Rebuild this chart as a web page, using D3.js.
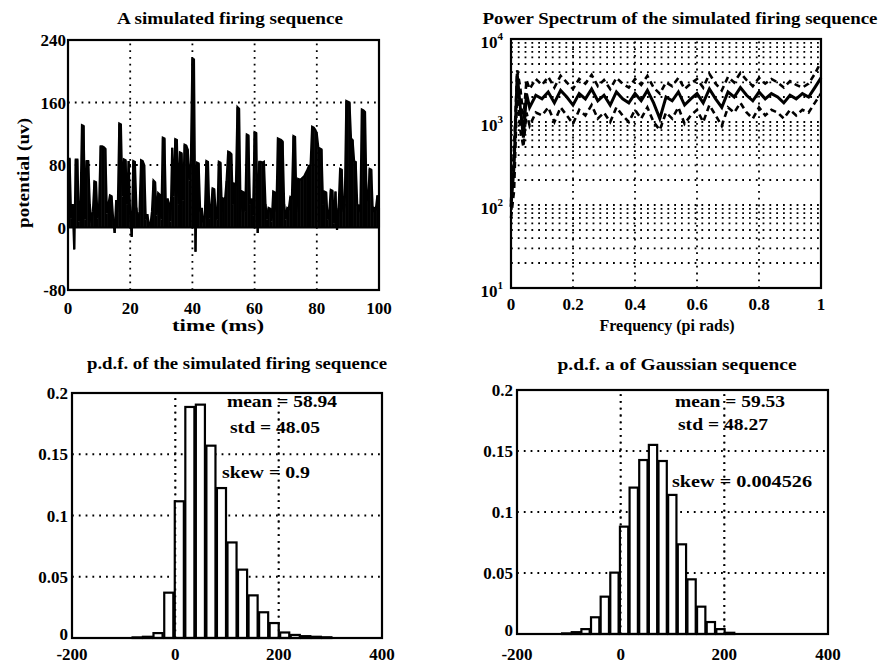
<!DOCTYPE html>
<html>
<head>
<meta charset="utf-8">
<script src="https://cdn.jsdelivr.net/npm/d3@7"></script>
<style>
  body { margin: 0; background: #fff; }
  text { font-family: "Liberation Serif", "Times New Roman", serif; font-weight: bold; fill: #000; }
</style>
</head>
<body>
<script>
// firing sequence, one sample every 0.5 ms from 0 to 100 ms
var timeStep = 0.5;
var potential = [
  88, 88, 12, 30, -28, 87, 87, 8, 22, 131, 130, 10, 85, 85, 30, 6, 20, 59, 58, 12,
  28, 104, 104, 103, 101, 18, 30, 41, 40, 12, -7, 35, 20, 133, 132, 40, 87, 86, 30, 85,
  15, -12, 85, 84, 25, 6, 20, 86, 85, 80, 10, 17, 4, 3, 20, 60, 58, 15, 44, 42,
  10, 115, 114, 20, 37, 30, 8, 102, 40, 113, 112, 30, 96, 95, 35, 106, 105, 100, 60, 82,
  216, 215, -31, 83, 82, 20, 25, 6, 15, 85, 84, 12, 25, 50, 49, 20, 10, 84, 83, 20,
  37, 36, 60, 97, 96, 94, 30, 56, 55, 154, 152, 20, 46, 45, 20, 119, 118, 30, 37, 15,
  122, 121, -7, 84, 84, 83, 84, 30, 10, 25, 24, 8, 46, 45, 20, 114, 113, 112, 110, 30,
  10, 25, 24, 39, 38, 117, 116, 20, 62, 61, 62, 64, 66, 70, 74, 79, 80, 129, 128, 125,
  120, 102, 101, 100, 30, 46, 45, 10, 20, 48, 47, 5, 46, -3, 25, 75, 74, 20, 30, 162,
  161, 160, 114, 112, 85, 84, 29, 28, 20, 151, 150, 148, 37, 35, 75, 74, 20, 25, 24, 41,
  25
];
var potTicks = [-80, 0, 80, 160, 240];
var timeTicks = [0, 20, 40, 60, 80, 100];

// power spectrum: mean estimate and the two dashed bounds
var freq = [0, 0.01, 0.02, 0.03, 0.04, 0.05, 0.06, 0.08, 0.10, 0.12, 0.14, 0.16, 0.18, 0.20,
  0.22, 0.24, 0.26, 0.28, 0.30, 0.32, 0.34, 0.36, 0.38, 0.40, 0.42, 0.44, 0.46, 0.48, 0.50,
  0.52, 0.54, 0.56, 0.58, 0.60, 0.62, 0.64, 0.66, 0.68, 0.70, 0.72, 0.74, 0.76, 0.78, 0.80,
  0.82, 0.84, 0.86, 0.88, 0.90, 0.92, 0.94, 0.96, 0.98, 1.00];
var psdMid = [95, 300, 3800, 1500, 650, 2200, 1500, 2100, 1900, 2300, 1700, 2400, 2000, 1600,
  2200, 1900, 2500, 1800, 2100, 1600, 2300, 1900, 1700, 2200, 1800, 2400, 1700, 1100, 2000,
  1800, 2300, 1600, 1900, 2200, 1700, 2500, 1900, 1500, 2300, 2000, 2600, 2100, 1800, 2300,
  1900, 2200, 2000, 1700, 2100, 1900, 2200, 2000, 2600, 3400];
var psdHigh = [110, 500, 4200, 2600, 1100, 3200, 2500, 3300, 2800, 3500, 2600, 3600, 3000, 2500,
  3300, 2900, 3700, 2700, 3200, 2500, 3400, 2900, 2600, 3300, 2800, 3600, 2600, 2200, 3000,
  2700, 3400, 2500, 2900, 3300, 2600, 3800, 2900, 2400, 3500, 3000, 3900, 3200, 2700, 3400,
  2900, 3300, 3000, 2600, 3100, 2800, 2600, 2900, 3800, 5300];
var psdLow = [70, 150, 2500, 800, 500, 1300, 900, 1300, 1200, 1500, 1000, 1500, 1200, 950,
  1400, 1200, 1600, 1100, 1300, 1000, 1500, 1200, 1000, 1400, 1100, 1500, 1000, 800, 1300,
  1100, 1500, 950, 1200, 1400, 1000, 1600, 1200, 900, 1500, 1300, 1700, 1300, 1100, 1500,
  1200, 1400, 1300, 1100, 1400, 1200, 1400, 1300, 1700, 2200];
var freqTicks = [0, 0.2, 0.4, 0.6, 0.8, 1];
var freqTickLabels = ["0", "0.2", "0.4", "0.6", "0.8", "1"];
var psdDecades = [10, 100, 1000, 10000];
var psdMinor = [20, 30, 40, 50, 60, 70, 80, 90, 200, 300, 400, 500, 600, 700, 800, 900,
  2000, 3000, 4000, 5000, 6000, 7000, 8000, 9000];

// histogram of the simulated firing sequence
var firingBinWidth = 20.4;
var firingBins = [-74, -54, -33.5, -12.7, 7.7, 28.1, 48.5, 68.9, 89.3, 109.7, 130.1, 150.5,
  170.9, 191.3, 211.7, 232.1, 252.5, 272.9, 293.3];
var firingPdf = [0.0005, 0.001, 0.004, 0.037, 0.1116, 0.1886, 0.1905, 0.157, 0.1224, 0.078,
  0.0558, 0.0348, 0.021, 0.0122, 0.0045, 0.0025, 0.0015, 0.001, 0.0006];

// histogram of the gaussian sequence
var gaussBinWidth = 18.6;
var gaussBins = [-105, -86.4, -67.8, -49.2, -30.6, -12, 6.6, 25.2, 43.8, 62.4, 81, 99.6,
  118.2, 136.8, 155.4, 174, 192.6, 211.2];
var gaussPdf = [0.0005, 0.0015, 0.004, 0.0137, 0.0306, 0.0503, 0.088, 0.12, 0.1426, 0.155,
  0.1418, 0.114, 0.0735, 0.0448, 0.0224, 0.0098, 0.004, 0.001];
var pdfTicks = [0, 0.05, 0.1, 0.15, 0.2];
var pdfTickLabels = ["0", "0.05", "0.1", "0.15", "0.2"];
var valueTicks = [-200, 0, 200, 400];

var svg = d3.select('body').append('svg')
  .attr('width', 888).attr('height', 667)
  .style('background', '#fff');

function label(x, y, str, size, len, anchor) {
  var t = svg.append('text').attr('x', x).attr('y', y)
    .attr('text-anchor', anchor || 'middle')
    .style('font-size', size + 'px').text(str);
  if (len) t.attr('textLength', len).attr('lengthAdjust', 'spacingAndGlyphs');
  return t;
}

function dotted(g, x1, y1, x2, y2) {
  g.append('line').attr('x1', x1).attr('y1', y1).attr('x2', x2).attr('y2', y2)
    .attr('stroke', '#000').attr('stroke-width', 1.8)
    .attr('stroke-dasharray', '1.8,5');
}

function grid(g, x, y, xs, ys) {
  xs.forEach(function(v) { dotted(g, x(v), y.range()[0], x(v), y.range()[1]); });
  ys.forEach(function(v) { dotted(g, x.range()[0], y(v), x.range()[1], y(v)); });
}

function box(x, y) {
  svg.append('rect')
    .attr('x', x.range()[0]).attr('y', y.range()[1])
    .attr('width', x.range()[1] - x.range()[0])
    .attr('height', y.range()[0] - y.range()[1])
    .attr('fill', 'none').attr('stroke', '#000').attr('stroke-width', 2.2);
}

function xLabels(x, ticks, labels, yPos) {
  ticks.forEach(function(v, i) {
    label(x(v), yPos, labels ? labels[i] : String(v), 17);
  });
}

function yLabels(y, ticks, labels, xPos) {
  ticks.forEach(function(v, i) {
    // the zero label sits a little higher so it clears the x labels
    var dy = (v === 0 && labels) ? 2 : 6;
    label(xPos, y(v) + dy, labels ? labels[i] : String(v), 17, null, 'end');
  });
}

// ---- top left: firing sequence
var x1 = d3.scaleLinear().domain([0, 100]).range([68, 379]);
var y1 = d3.scaleLinear().domain([-80, 240]).range([290, 40]);
var g1 = svg.append('g');
grid(g1, x1, y1, [20, 40, 60, 80], [80, 160]);
var barW = x1(timeStep) - x1(0) + 0.5;
g1.selectAll('rect.spike').data(potential).enter().append('rect')
  .attr('class', 'spike')
  .attr('x', function(d, i) { return x1(i * timeStep) - barW / 2; })
  .attr('y', function(d) { return Math.min(y1(d), y1(0)); })
  .attr('width', barW)
  .attr('height', function(d) { return Math.abs(y1(d) - y1(0)); })
  .attr('fill', '#000');
g1.append('path').datum(potential)
  .attr('d', d3.line().x(function(d, i) { return x1(i * timeStep); }).y(function(d) { return y1(d); }))
  .attr('fill', 'none').attr('stroke', '#000').attr('stroke-width', 2.2);
g1.append('line').attr('x1', x1(0)).attr('x2', x1(100)).attr('y1', y1(0)).attr('y2', y1(0))
  .attr('stroke', '#000').attr('stroke-width', 2);
box(x1, y1);
xLabels(x1, timeTicks, null, 314);
yLabels(y1, potTicks, null, 66);
label(230, 24, 'A simulated firing sequence', 16, 226);
label(218, 331, 'time (ms)', 16, 92);
label(0, 0, 'potential (uv)', 16, 110)
  .attr('transform', 'translate(29,173) rotate(-90)');

// ---- top right: power spectrum
var x2 = d3.scaleLinear().domain([0, 1]).range([511, 821]);
var y2 = d3.scaleLog().domain([10, 10000]).range([288, 39]);
var g2 = svg.append('g');
grid(g2, x2, y2, [0.2, 0.4, 0.6, 0.8], psdMinor.concat([100, 1000]));
var psdLine = d3.line().x(function(d, i) { return x2(freq[i]); }).y(function(d) { return y2(d); });
g2.append('path').datum(psdHigh).attr('d', psdLine)
  .attr('fill', 'none').attr('stroke', '#000').attr('stroke-width', 2.6)
  .attr('stroke-dasharray', '6,4');
g2.append('path').datum(psdLow).attr('d', psdLine)
  .attr('fill', 'none').attr('stroke', '#000').attr('stroke-width', 2.6)
  .attr('stroke-dasharray', '6,4');
g2.append('path').datum(psdMid).attr('d', psdLine)
  .attr('fill', 'none').attr('stroke', '#000').attr('stroke-width', 3);
box(x2, y2);
xLabels(x2, freqTicks, freqTickLabels, 310);
psdDecades.forEach(function(v) {
  var t = svg.append('text').attr('x', 503).attr('y', y2(v) + 9)
    .attr('text-anchor', 'end').style('font-size', '17px');
  t.append('tspan').text('10');
  t.append('tspan').attr('dy', -8).style('font-size', '11px').text(String(Math.round(Math.log10(v))));
});
label(680, 24, 'Power Spectrum of the simulated firing sequence', 16, 395);
label(667, 331, 'Frequency (pi rads)', 16, 135);

// ---- bottom: pdf histograms
function histogram(x, y, centers, pdf, bw) {
  var g = svg.append('g');
  grid(g, x, y, [0, 200], [0.05, 0.1, 0.15]);
  var w = x(bw * 0.86) - x(0);
  g.selectAll('rect.bin').data(pdf).enter().append('rect')
    .attr('class', 'bin')
    .attr('x', function(d, i) { return x(centers[i]) - w / 2; })
    .attr('y', function(d) { return y(d); })
    .attr('width', w)
    .attr('height', function(d) { return y(0) - y(d); })
    .attr('fill', '#fff').attr('stroke', '#000').attr('stroke-width', 2.2);
  // redraw the dotted verticals over the bars
  [0, 200].forEach(function(v) { dotted(g, x(v), y.range()[0], x(v), y.range()[1]); });
  box(x, y);
  xLabels(x, valueTicks, null, 660);
  yLabels(y, pdfTicks, pdfTickLabels, x.range()[0] - 4);
}

var x3 = d3.scaleLinear().domain([-200, 400]).range([72, 382]);
var y3 = d3.scaleLinear().domain([0, 0.2]).range([638, 393]);
histogram(x3, y3, firingBins, firingPdf, firingBinWidth);
label(237, 369, 'p.d.f. of the simulated firing sequence', 16, 300);
label(282, 407, 'mean = 58.94', 17, 110);
label(275, 433, 'std = 48.05', 17, 90);
label(266, 478, 'skew = 0.9', 17, 88);

var x4 = d3.scaleLinear().domain([-200, 400]).range([517, 828]);
var y4 = d3.scaleLinear().domain([0, 0.2]).range([634, 390]);
histogram(x4, y4, gaussBins, gaussPdf, gaussBinWidth);
label(677, 370, 'p.d.f. a of Gaussian sequence', 16, 239);
label(730, 407, 'mean = 59.53', 17, 110);
label(723, 430, 'std = 48.27', 17, 90);
label(742, 487, 'skew = 0.004526', 17, 140);
</script>
</body>
</html>
